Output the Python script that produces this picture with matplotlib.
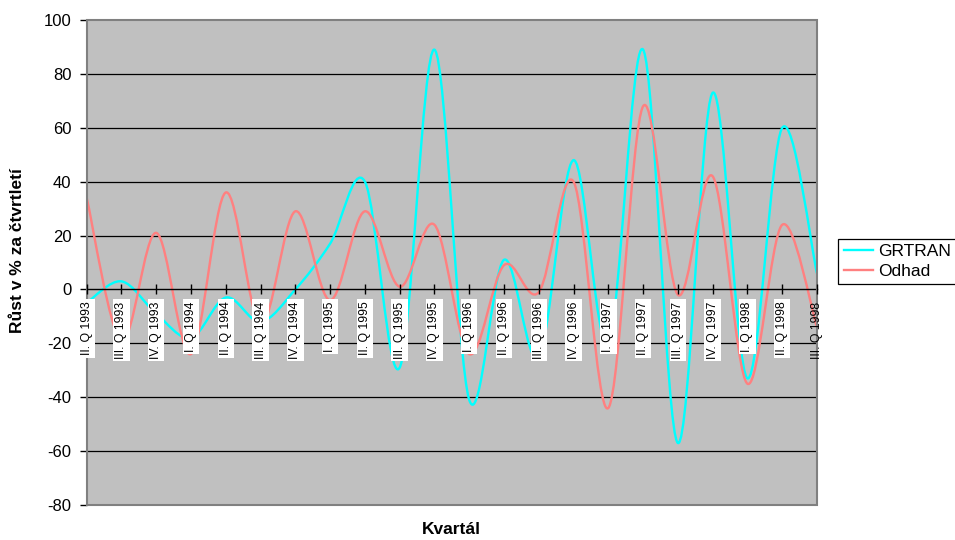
import numpy as np
import matplotlib.pyplot as plt
from matplotlib.path import Path
from matplotlib.patches import PathPatch, Rectangle
from matplotlib.lines import Line2D

plt.rcParams["font.family"] = ["Liberation Sans", "DejaVu Sans"]
plt.rcParams["axes.unicode_minus"] = False

# ── data: quarterly growth (% q/q) ────────────────────────────────────────────
quarters = [
    "II. Q 1993", "III. Q 1993", "IV. Q 1993",
    "I. Q 1994", "II. Q 1994", "III. Q 1994", "IV. Q 1994",
    "I. Q 1995", "II. Q 1995", "III. Q 1995", "IV. Q 1995",
    "I. Q 1996", "II. Q 1996", "III. Q 1996", "IV. Q 1996",
    "I. Q 1997", "II. Q 1997", "III. Q 1997", "IV. Q 1997",
    "I. Q 1998", "II. Q 1998", "III. Q 1998",
]
grtran = [-5, 3, -9, -18, -3, -12, 0, 17, 40, -29, 89,
          -41, 11, -25, 48, -20, 89, -57, 73, -33, 60, 6]
odhad = [34, -19, 21, -24, 36, -13, 29, -4, 29, 1, 24,
         -24, 9, -1, 40, -44, 68, -2, 42, -35, 24, -14]

yticks = list(range(-80, 101, 20))

CYAN = "#00FFFF"
SALMON = "#FF8080"


def smooth_path(x, y):
    """Bezier path through the points (Catmull-Rom style, like Excel smoothing)."""
    x = np.asarray(x, float)
    y = np.asarray(y, float)
    px = np.concatenate([[x[0]], x, [x[-1]]])
    py = np.concatenate([[y[0]], y, [y[-1]]])
    verts = [(x[0], y[0])]
    codes = [Path.MOVETO]
    for i in range(len(x) - 1):
        c1 = (x[i] + (px[i + 2] - px[i]) / 6, y[i] + (py[i + 2] - py[i]) / 6)
        c2 = (x[i + 1] - (px[i + 3] - px[i + 1]) / 6,
              y[i + 1] - (py[i + 3] - py[i + 1]) / 6)
        verts += [c1, c2, (x[i + 1], y[i + 1])]
        codes += [Path.CURVE4] * 3
    return Path(verts, codes)


fig = plt.figure(figsize=(9.55, 5.4), dpi=100)
ax = fig.add_axes([86.7 / 955, 1 - 505 / 540, (817 - 86.7) / 955, 485 / 540])
ax.set_facecolor("#C0C0C0")

xs = np.arange(len(quarters))
ax.set_xlim(0, len(quarters) - 1)
ax.set_ylim(-80, 100)

# horizontal gridlines sit under the series
for v in yticks:
    if v not in (-80, 0, 100):
        ax.axhline(v, color="black", lw=0.9, zorder=1)

for vals, color in [(grtran, CYAN), (odhad, SALMON)]:
    ax.add_patch(PathPatch(smooth_path(xs, vals), facecolor="none",
                           edgecolor=color, lw=1.7, zorder=2,
                           joinstyle="round", capstyle="round"))

# plot-area border (gray), y axis black, category axis crossing at zero
ax.add_patch(Rectangle((0, 0), 1, 1, transform=ax.transAxes, fill=False,
                       edgecolor="#808080", lw=1.5, zorder=2.6, clip_on=False))
ax.spines[["top", "right"]].set_visible(False)
ax.spines["bottom"].set_position(("data", 0))
ax.spines["bottom"].set_linewidth(1)
ax.spines["left"].set_linewidth(1.2)

ax.set_yticks(yticks)
ax.tick_params(axis="y", direction="out", length=5, width=1, pad=6,
               labelsize=12)

ax.set_xticks(xs, quarters, rotation=90, va="top", fontsize=8.8)
ax.tick_params(axis="x", direction="inout", length=6.5, width=1, pad=5.5)
for i, lbl in enumerate(ax.get_xticklabels()):
    if i < len(quarters) - 1:
        lbl.set_bbox(dict(facecolor="white", edgecolor="none", pad=1.6))
ax.xaxis.set_zorder(3)

ax.set_ylabel("Růst v % za čtvrtletí", fontsize=12.5, fontweight="bold")
ax.yaxis.set_label_coords(-0.084, 0.524)
ax.set_xlabel("Kvartál", fontsize=12.5, fontweight="bold")
ax.xaxis.set_label_coords(0.5, -0.036)

handles = [Line2D([], [], color=CYAN, lw=1.7), Line2D([], [], color=SALMON, lw=1.7)]
leg = fig.legend(handles, ["GRTRAN", "Odhad"], loc="upper left",
                 bbox_to_anchor=(838.3 / 955, 1 - 239 / 540),
                 frameon=True, fancybox=False, edgecolor="black", framealpha=1,
                 fontsize=12.5, handlelength=1.7, handletextpad=0.3,
                 borderpad=0.3, labelspacing=0.25, borderaxespad=0)
leg.get_frame().set_linewidth(0.9)

fig.savefig("out.png", dpi=100)
